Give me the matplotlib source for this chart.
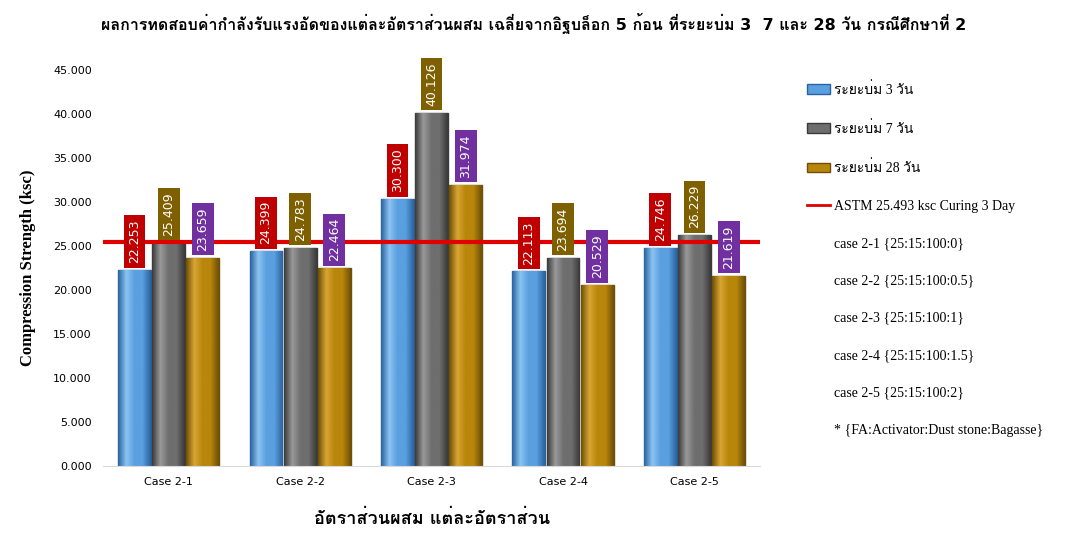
import matplotlib
matplotlib.use("Agg")
import matplotlib.pyplot as plt
import numpy as np
from matplotlib import font_manager
from matplotlib.colors import LinearSegmentedColormap
from matplotlib.ft2font import FT2Font
from matplotlib.lines import Line2D
from matplotlib.patches import Patch

cases = ["Case 2-1", "Case 2-2", "Case 2-3", "Case 2-4", "Case 2-5"]
day3 = [22.253, 24.399, 30.300, 22.113, 24.746]
day7 = [25.409, 24.783, 40.126, 23.694, 26.229]
day28 = [23.659, 22.464, 31.974, 20.529, 21.619]
astm = 25.493

series_labels = ["ระยะบ่ม 3 วัน", "ระยะบ่ม 7 วัน", "ระยะบ่ม 28 วัน"]
astm_label = "ASTM 25.493 ksc Curing 3 Day"
case_notes = [
    "case 2-1 {25:15:100:0}",
    "case 2-2 {25:15:100:0.5}",
    "case 2-3 {25:15:100:1}",
    "case 2-4 {25:15:100:1.5}",
    "case 2-5 {25:15:100:2}",
    "* {FA:Activator:Dust stone:Bagasse}",
]
title = "ผลการทดสอบค่ากำลังรับแรงอัดของแต่ละอัตราส่วนผสม เฉลี่ยจากอิฐบล็อก 5 ก้อน ที่ระยะบ่ม 3  7 และ 28 วัน กรณีศึกษาที่ 2"
xlabel = "อัตราส่วนผสม แต่ละอัตราส่วน"
ylabel = "Compression Strength (ksc)"


def find_thai_font():
    # first installed family that actually has Thai glyphs
    for f in font_manager.fontManager.ttflist:
        try:
            if 0x0E01 in FT2Font(f.fname).get_charmap():
                return f.name
        except Exception:
            continue
    return None


thai = find_thai_font()
sans = ["DejaVu Sans"] + ([thai] if thai else [])
serif = ["Liberation Serif"] + ([thai] if thai else [])

bar_colors = ["#5a9fdf", "#6e6e6e", "#b8860b"]
light_colors = ["#8cc4f2", "#9a9a9a", "#d9a634"]
edge_colors = ["#2a64a0", "#3a3a3a", "#6e5008"]
label_colors = ["#c00000", "#7f6000", "#7030a0"]

fig = plt.figure(figsize=(10.67, 5.34), dpi=100)
ax = fig.add_axes([0.0965, 0.127, 0.616, 0.742])

x = np.arange(len(cases))
w = 0.25
step = 0.26
grad = np.linspace(0, 1, 64).reshape(1, -1)
for i, vals in enumerate([day3, day7, day28]):
    xs = x + (i - 1) * step
    bars = ax.bar(xs, vals, width=w, color=bar_colors[i], edgecolor=edge_colors[i],
                  linewidth=1.0, zorder=2)
    # bevel-ish shading across each bar
    cmap = LinearSegmentedColormap.from_list(
        f"g{i}", [edge_colors[i], light_colors[i], bar_colors[i], bar_colors[i], edge_colors[i]])
    for b in bars:
        im = ax.imshow(grad, cmap=cmap, aspect="auto", zorder=2.1,
                       extent=(b.get_x(), b.get_x() + b.get_width(), 0, b.get_height()))
        im.set_clip_path(b)
    for xi, v in zip(xs, vals):
        ax.annotate(f"{v:.3f}", (xi, v), xytext=(0, 5), textcoords="offset points",
                    rotation=90, ha="center", va="bottom", fontsize=9,
                    color="white", zorder=4,
                    bbox=dict(boxstyle="square,pad=0.35", fc=label_colors[i], ec="none"))

ax.axhline(astm, color="#e00000", lw=3, zorder=3)

ax.set_xlim(-0.5, 4.5)
ax.set_ylim(0, 45)
ax.set_yticks(np.arange(0, 46, 5))
ax.set_yticklabels([f"{t:.3f}" for t in np.arange(0, 46, 5)], fontsize=8)
ax.set_xticks(x)
ax.set_xticklabels(cases, fontsize=8)
ax.tick_params(length=0, pad=8)
for s in ["top", "right", "left"]:
    ax.spines[s].set_visible(False)
ax.spines["bottom"].set_color("#d9d9d9")

ax.set_ylabel(ylabel, family="Liberation Serif", fontweight="bold", fontsize=12, labelpad=12)
ax.set_xlabel(xlabel, family=sans, fontweight="bold", fontsize=13, labelpad=16)
fig.suptitle(title, family=sans, fontweight="bold", fontsize=11.5, y=0.975)

handles = [Patch(fc=bar_colors[i], ec=edge_colors[i]) for i in range(3)]
handles.append(Line2D([], [], color="#e00000", lw=2))
handles += [Patch(fc="none", ec="none") for _ in case_notes]
leg = fig.legend(handles, series_labels + [astm_label] + case_notes,
                 loc="upper left", bbox_to_anchor=(0.745, 0.87), frameon=False,
                 prop=dict(family=serif, size=10), labelspacing=1.75,
                 handlelength=1.6, handletextpad=0.3)

fig.savefig("out.png", dpi=100)
